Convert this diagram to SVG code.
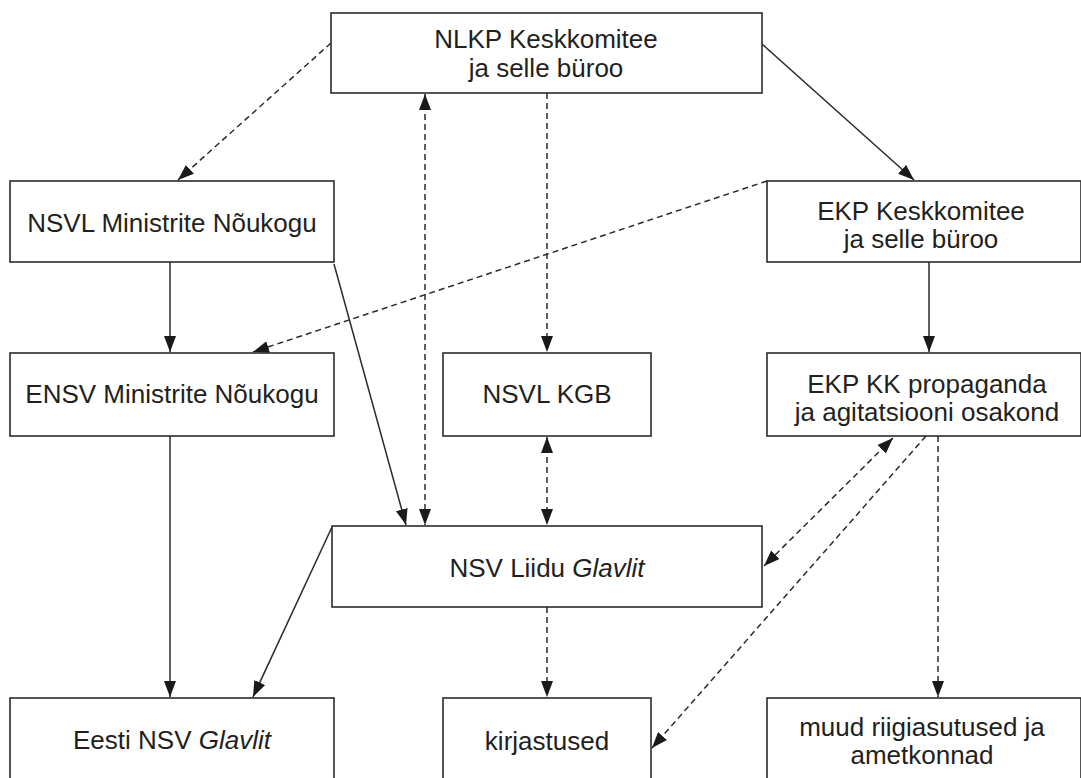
<svg xmlns="http://www.w3.org/2000/svg" width="1081" height="778" viewBox="0 0 1081 778">
<style>
.box{fill:#fff;stroke:#2b2b2b;stroke-width:1.6}
.t{font-family:"Liberation Sans",Arial,sans-serif;font-size:26px;fill:#231f20;text-anchor:middle}
.s{fill:none;stroke:#2b2b2b;stroke-width:1.5}
.d{fill:none;stroke:#2b2b2b;stroke-width:1.5;stroke-dasharray:6,4}
</style>
<defs>
<marker id="ah" markerUnits="userSpaceOnUse" markerWidth="16" markerHeight="12" refX="16" refY="6" orient="auto-start-reverse" viewBox="0 0 16 12">
<path d="M0,0 L16,6 L0,12 z" fill="#1a1a1a"/>
</marker>
</defs>
<rect width="1081" height="778" fill="#fff"/>
<g id="connectors">
<line class="d" x1="331" y1="43" x2="178" y2="180" marker-end="url(#ah)"/>
<line class="s" x1="762" y1="44" x2="914" y2="180" marker-end="url(#ah)"/>
<line class="d" x1="425" y1="94" x2="425" y2="525" marker-start="url(#ah)" marker-end="url(#ah)"/>
<line class="d" x1="547" y1="93" x2="547" y2="352" marker-end="url(#ah)"/>
<line class="d" x1="767" y1="181" x2="253" y2="352" marker-end="url(#ah)"/>
<line class="s" x1="170" y1="262" x2="170" y2="352" marker-end="url(#ah)"/>
<line class="s" x1="334" y1="264" x2="406" y2="525" marker-end="url(#ah)"/>
<line class="d" x1="547" y1="437" x2="547" y2="525" marker-start="url(#ah)" marker-end="url(#ah)"/>
<line class="s" x1="929" y1="262" x2="929" y2="352" marker-end="url(#ah)"/>
<line class="s" x1="170" y1="436" x2="170" y2="697" marker-end="url(#ah)"/>
<line class="s" x1="332" y1="527" x2="253" y2="697" marker-end="url(#ah)"/>
<line class="d" x1="893" y1="438" x2="764" y2="566" marker-start="url(#ah)" marker-end="url(#ah)"/>
<line class="d" x1="926" y1="436" x2="652" y2="748" marker-end="url(#ah)"/>
<line class="d" x1="938" y1="436" x2="938" y2="697" marker-end="url(#ah)"/>
<line class="d" x1="547" y1="607" x2="547" y2="697" marker-end="url(#ah)"/>
</g>
<g id="n_nlkp"><rect class="box" x="331" y="13" width="431" height="80"/><text class="t" x="546" y="48">NLKP Keskkomitee</text><text class="t" x="546" y="77">ja selle büroo</text></g>
<g id="n_nsvl_mn"><rect class="box" x="10" y="181" width="324" height="81"/><text class="t" x="172" y="232">NSVL Ministrite Nõukogu</text></g>
<g id="n_ekp"><rect class="box" x="767" y="181" width="314" height="81"/><text class="t" x="921" y="220">EKP Keskkomitee</text><text class="t" x="921" y="248">ja selle büroo</text></g>
<g id="n_ensv_mn"><rect class="box" x="10" y="353" width="324" height="83"/><text class="t" x="172" y="403">ENSV Ministrite Nõukogu</text></g>
<g id="n_kgb"><rect class="box" x="443" y="353" width="208" height="83"/><text class="t" x="547" y="403">NSVL KGB</text></g>
<g id="n_prop"><rect class="box" x="767" y="353" width="314" height="83"/><text class="t" x="927" y="393">EKP KK propaganda</text><text class="t" x="927" y="421">ja agitatsiooni osakond</text></g>
<g id="n_glavlit"><rect class="box" x="332" y="526" width="430" height="81"/><text class="t" x="547" y="577">NSV Liidu <tspan font-style="italic">Glavlit</tspan></text></g>
<g id="n_eesti_glavlit"><rect class="box" x="10" y="698" width="324" height="100"/><text class="t" x="172" y="749">Eesti NSV <tspan font-style="italic">Glavlit</tspan></text></g>
<g id="n_kirjastused"><rect class="box" x="443" y="698" width="208" height="100"/><text class="t" x="547" y="750">kirjastused</text></g>
<g id="n_muud"><rect class="box" x="767" y="698" width="314" height="100"/><text class="t" x="922" y="736">muud riigiasutused ja</text><text class="t" x="922" y="764">ametkonnad</text></g>
</svg>
